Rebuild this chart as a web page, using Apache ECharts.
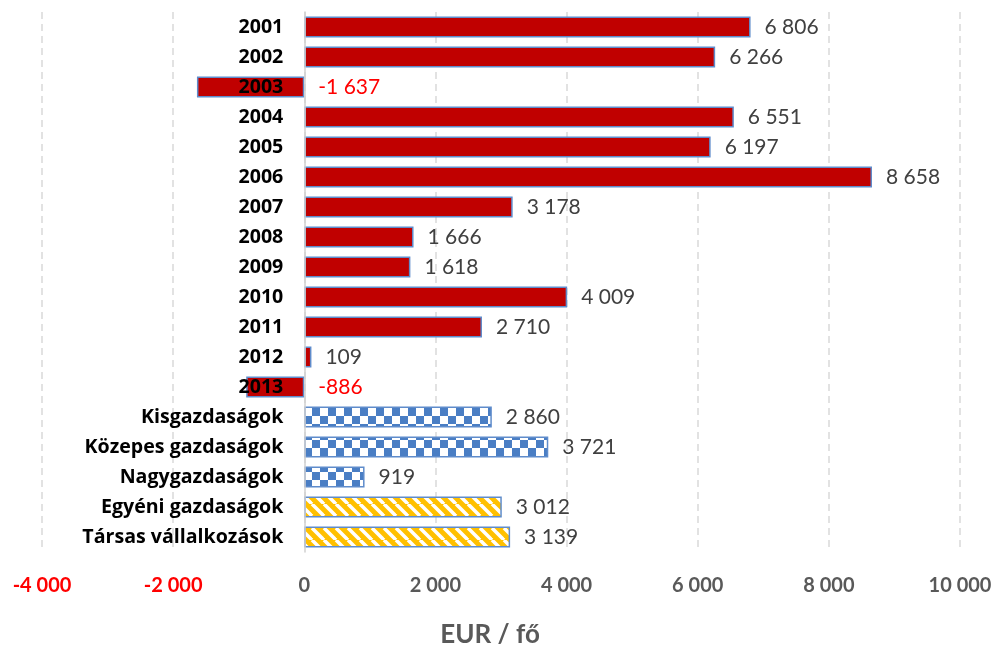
<!DOCTYPE html>
<html>
<head>
<meta charset="utf-8">
<script src="https://cdn.jsdelivr.net/npm/echarts@6/dist/echarts.min.js"></script>
<style>
  html, body { margin: 0; padding: 0; background: #fff; }
  #chart { width: 995px; height: 650px; }
</style>
</head>
<body>
<div id="chart"></div>
<script>
// Categories: years, then farm size groups, then farm legal forms
const categories = [
  '2001', '2002', '2003', '2004', '2005', '2006', '2007', '2008', '2009',
  '2010', '2011', '2012', '2013',
  'Kisgazdaságok', 'Közepes gazdaságok', 'Nagygazdaságok',
  'Egyéni gazdaságok', 'Társas vállalkozások'
];
// EUR per person
const values = [
  6806, 6266, -1637, 6551, 6197, 8658, 3178, 1666, 1618,
  4009, 2710, 109, -886,
  2860, 3721, 919,
  3012, 3139
];
// Fill kind per category: solid year bars, checkered size groups, striped legal forms
const fillKinds = [
  'solid', 'solid', 'solid', 'solid', 'solid', 'solid', 'solid', 'solid', 'solid',
  'solid', 'solid', 'solid', 'solid',
  'checker', 'checker', 'checker',
  'stripe', 'stripe'
];
const xTicks = [-4000, -2000, 0, 2000, 4000, 6000, 8000, 10000];

const FONT = 'Lato, "Open Sans", sans-serif';
const CAT_FONT = '"Open Sans", Lato, sans-serif';
const GRID_LEFT = 42, GRID_RIGHT = 35;
const CHART_W = 995;

function fmt(v) {
  const s = Math.abs(Math.round(v)).toString().replace(/\B(?=(\d{3})+(?!\d))/g, ' ');
  return (v < 0 ? '-' : '') + s;
}

function checkerPattern() {
  const c = document.createElement('canvas');
  const s = 8;
  c.width = s * 2; c.height = s * 2;
  const g = c.getContext('2d');
  g.fillStyle = '#ffffff';
  g.fillRect(0, 0, s * 2, s * 2);
  g.fillStyle = '#4a7ec4';
  g.fillRect(0, 0, s, s);
  g.fillRect(s, s, s, s);
  return c;
}

function stripePattern() {
  const c = document.createElement('canvas');
  const p = 12;
  c.width = p; c.height = p;
  const g = c.getContext('2d');
  g.fillStyle = '#ffc000';
  g.fillRect(0, 0, p, p);
  g.strokeStyle = '#ffffff';
  g.lineWidth = 3.5;
  // "\" direction stripes
  for (let k = -1; k <= 1; k++) {
    g.beginPath();
    g.moveTo(k * p, 0);
    g.lineTo(k * p + p, p);
    g.stroke();
  }
  return c;
}

const fills = {
  solid: '#c00000',
  checker: { image: checkerPattern(), repeat: 'repeat' },
  stripe: { image: stripePattern(), repeat: 'repeat' }
};

const seriesData = values.map((v, i) => ({
  value: v,
  itemStyle: {
    color: fills[fillKinds[i]],
    borderColor: '#5f8ccb',
    borderWidth: 1.5
  },
  label: { color: v < 0 ? '#ff0000' : '#404040' }
}));

// Shift the category axis (line + labels) onto the zero line of the value axis
const xMin = xTicks[0], xMax = xTicks[xTicks.length - 1];
const plotW = CHART_W - GRID_LEFT - GRID_RIGHT;
const zeroOffset = -plotW * (0 - xMin) / (xMax - xMin);

const chart = echarts.init(document.getElementById('chart'), null, { renderer: 'canvas' });
chart.setOption({
  animation: false,
  backgroundColor: '#ffffff',
  grid: { left: GRID_LEFT, right: GRID_RIGHT, top: 12, bottom: 98, containLabel: false, outerBoundsMode: 'none' },
  xAxis: {
    type: 'value',
    min: xMin,
    max: xMax,
    interval: 2000,
    name: 'EUR / fő',
    nameLocation: 'middle',
    nameGap: 70,
    nameTextStyle: { fontFamily: FONT, fontWeight: 'bold', fontSize: 26, color: '#595959', padding: [0, 22, 0, 0] },
    axisLine: { show: false },
    axisTick: { show: false },
    splitLine: { show: true, lineStyle: { color: '#d9d9d9', width: 1.5, type: [7, 5] } },
    axisLabel: {
      margin: 24,
      fontFamily: FONT,
      fontWeight: 'bold',
      fontSize: 20,
      formatter: v => (v < 0 ? '{neg|' + fmt(v) + '}' : '{pos|' + fmt(v) + '}'),
      rich: {
        neg: { color: '#ff0000', fontFamily: FONT, fontWeight: 'bold', fontSize: 20 },
        pos: { color: '#595959', fontFamily: FONT, fontWeight: 'bold', fontSize: 20 }
      }
    }
  },
  yAxis: {
    type: 'category',
    data: categories,
    inverse: true,
    position: 'left',
    offset: zeroOffset,
    z: 5,
    axisLine: { show: true, onZero: false, lineStyle: { color: '#d0d0d0', width: 1.5 } },
    axisTick: { show: false },
    splitLine: { show: false },
    axisLabel: {
      margin: 21,
      fontFamily: CAT_FONT,
      fontWeight: 'bold',
      fontSize: 19.6,
      color: '#000000'
    }
  },
  series: [{
    type: 'bar',
    data: seriesData,
    barWidth: 21,
    z: 2,
    label: {
      show: true,
      position: 'right',
      distance: 14,
      fontFamily: FONT,
      fontSize: 21,
      formatter: p => fmt(p.value)
    }
  }]
});
</script>
</body>
</html>
